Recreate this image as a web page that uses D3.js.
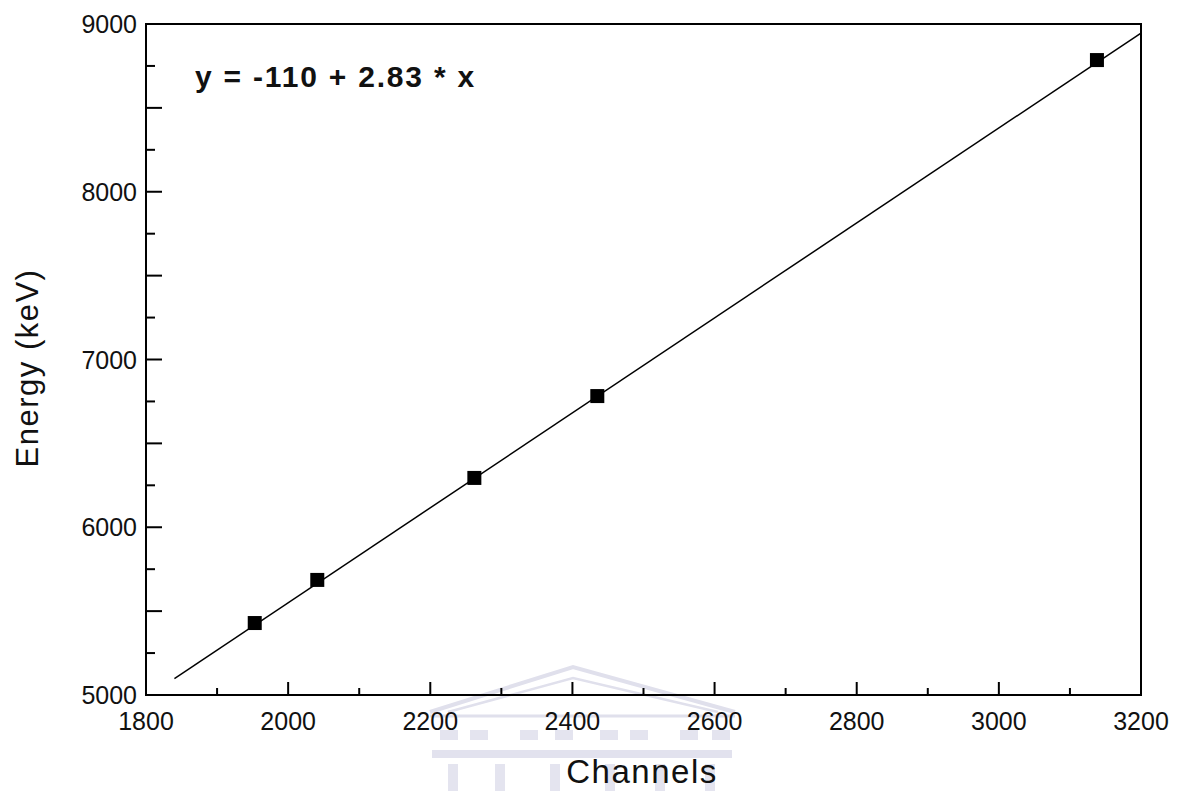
<!DOCTYPE html>
<html><head><meta charset="utf-8">
<script src="https://cdn.jsdelivr.net/npm/d3@7"></script>
<style>body{margin:0;background:#fff}svg{display:block}text{font-family:"Liberation Sans",Arial,sans-serif}</style>
</head><body>
<script>
const channels = [1953, 2041, 2262, 2435, 3138];
const energies = [5429, 5686, 6294, 6782, 8785];
const fitIntercept = -110, fitSlope = 2.83;
const fitRange = [1840, 3200];
const xTicks = [1800, 2000, 2200, 2400, 2600, 2800, 3000, 3200];
const yTicks = [5000, 6000, 7000, 8000, 9000];
const equation = "y = -110 + 2.83 * x";

const W = 1180, H = 791;
const L = 146, R = 1141, T = 24, B = 695;
const svg = d3.select("body").append("svg").attr("width", W).attr("height", H);

// faint watermark (building)
const wm = svg.append("g").attr("fill", "none").attr("stroke", "#e0e0ec");
wm.append("path").attr("d", "M430,712 L573,667 L735,712").attr("stroke-width", 4);
wm.append("path").attr("d", "M448,712 L573,678 L718,712").attr("stroke-width", 2.5);
wm.append("line").attr("x1", 430).attr("x2", 735).attr("y1", 716).attr("y2", 716).attr("stroke-width", 3);
[440, 470, 520, 555, 600, 630, 680, 712].forEach(cx => {
  wm.append("rect").attr("x", cx).attr("y", 730).attr("width", 18).attr("height", 10).attr("fill", "#e4e4ef").attr("stroke", "none");
});
wm.append("rect").attr("x", 432).attr("y", 750).attr("width", 300).attr("height", 8).attr("fill", "#e2e2ee").attr("stroke", "none");
[448, 495, 550, 605, 655, 705].forEach(cx => {
  wm.append("rect").attr("x", cx).attr("y", 764).attr("width", 10).attr("height", 27).attr("fill", "#e4e4ef").attr("stroke", "none");
});

const x = d3.scaleLinear().domain([1800, 3200]).range([L, R]);
const y = d3.scaleLinear().domain([5000, 9000]).range([B, T]);

// frame
svg.append("rect").attr("x", L).attr("y", T).attr("width", R - L).attr("height", B - T)
  .attr("fill", "none").attr("stroke", "#000").attr("stroke-width", 2);

// x ticks (inward)
const xAll = d3.range(1800, 3201, 100);
svg.append("g").selectAll("line").data(xAll).join("line")
  .attr("x1", d => x(d)).attr("x2", d => x(d))
  .attr("y1", B).attr("y2", d => B - (d % 200 === 0 ? 13 : 7))
  .attr("stroke", "#000").attr("stroke-width", 2);
svg.append("g").selectAll("text").data(xTicks).join("text")
  .attr("x", d => x(d)).attr("y", 730).attr("text-anchor", "middle")
  .attr("font-size", 25).attr("fill", "#111").text(d => d);

// y ticks (inward)
const yAll = d3.range(5000, 9001, 250);
svg.append("g").selectAll("line").data(yAll).join("line")
  .attr("x1", L).attr("x2", d => L + (d % 500 === 0 ? 16 : 9))
  .attr("y1", d => y(d)).attr("y2", d => y(d))
  .attr("stroke", "#000").attr("stroke-width", 2);
svg.append("g").selectAll("text").data(yTicks).join("text")
  .attr("x", 137).attr("y", d => y(d) + 9).attr("text-anchor", "end")
  .attr("font-size", 25).attr("fill", "#111").text(d => d);

// axis titles
svg.append("text").attr("x", 642).attr("y", 783).attr("text-anchor", "middle")
  .attr("font-size", 33).attr("letter-spacing", 1.5).attr("fill", "#111").text("Channels");
svg.append("text").attr("transform", "translate(38,368) rotate(-90)").attr("text-anchor", "middle")
  .attr("font-size", 31).attr("letter-spacing", 1.5).attr("fill", "#111").text("Energy (keV)");

// fit line
svg.append("line")
  .attr("x1", x(fitRange[0])).attr("y1", y(fitIntercept + fitSlope * fitRange[0]))
  .attr("x2", x(fitRange[1])).attr("y2", y(fitIntercept + fitSlope * fitRange[1]))
  .attr("stroke", "#000").attr("stroke-width", 1.5);

// points
const pts = channels.map((c, i) => [c, energies[i]]);
svg.append("g").selectAll("rect").data(pts).join("rect")
  .attr("x", d => x(d[0]) - 7).attr("y", d => y(d[1]) - 7)
  .attr("width", 14).attr("height", 14).attr("fill", "#000");

// equation
svg.append("text").attr("x", 195).attr("y", 87).attr("font-size", 30).attr("font-weight", "bold")
  .attr("letter-spacing", 1.8).attr("fill", "#111").style("white-space", "pre").text(equation);
</script>
</body></html>
